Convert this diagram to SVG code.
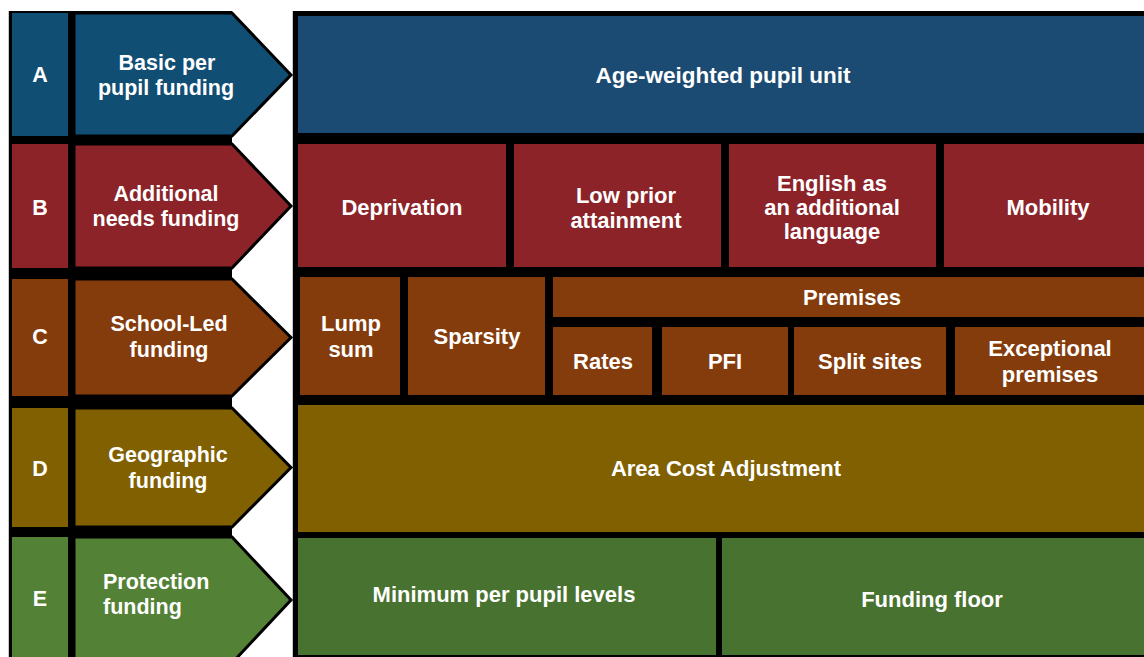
<svg xmlns="http://www.w3.org/2000/svg" width="1144" height="657" viewBox="0 0 1144 657">
<style>
text{font-family:"Liberation Sans",Arial,sans-serif;font-weight:bold;fill:#fff;font-size:22px;text-anchor:middle}
.lft{font-size:21.5px}
.big{font-size:22.5px}
.l{text-anchor:start}
.arr{stroke:#000;stroke-width:3;stroke-linejoin:miter}
.bA{fill:#114e74}.rA{fill:#1b4b72}
.cB{fill:#8b2329}
.cC{fill:#843c0c}
.cD{fill:#806000}
.bE{fill:#538135}.rE{fill:#48722f}
</style>
<rect width="1144" height="657" fill="#fff"/>
<g id="backgrounds">
<rect x="9" y="11" width="223" height="646" fill="#000"/>
<line x1="8.5" y1="11" x2="8.5" y2="657" stroke="#c8c8c8" stroke-width="1"/>
<rect x="293" y="11" width="851" height="646" fill="#000"/>
<line x1="292.5" y1="11" x2="292.5" y2="657" stroke="#c8c8c8" stroke-width="1"/>
</g>
<g id="row-A">
<rect class="bA" x="12" y="13" width="56" height="123"/>
<text class="lft" x="40" y="82">A</text>
<polygon class="bA arr" points="74,13 232,13 291,75 232,136 74,136"/>
<text class="lft" x="167" y="70">Basic per</text>
<text class="lft" x="166" y="95">pupil funding</text>
</g>
<g id="age-weighted">
<rect class="rA" x="298" y="16" width="846" height="117"/>
<text class="big" x="723" y="83">Age-weighted pupil unit</text>
</g>
<g id="row-B">
<rect class="cB" x="12" y="144" width="56" height="124"/>
<text class="lft" x="40" y="215">B</text>
<polygon class="cB arr" points="74,144 232,144 291,206 232,268 74,268"/>
<text class="lft" x="166" y="201">Additional</text>
<text class="lft" x="166" y="226">needs funding</text>
</g>
<g id="deprivation">
<rect class="cB" x="298" y="144" width="208" height="123"/>
<text x="402" y="215">Deprivation</text>
</g>
<g id="low-prior">
<rect class="cB" x="514" y="144" width="207" height="123"/>
<text x="626" y="203">Low prior</text>
<text x="626" y="228">attainment</text>
</g>
<g id="eal">
<rect class="cB" x="729" y="144" width="207" height="123"/>
<text x="832" y="191">English as</text>
<text x="832" y="215">an additional</text>
<text x="832" y="239">language</text>
</g>
<g id="mobility">
<rect class="cB" x="944" y="144" width="200" height="123"/>
<text x="1048" y="215">Mobility</text>
</g>
<g id="row-C">
<rect class="cC" x="12" y="279" width="56" height="117"/>
<text class="lft" x="40" y="344">C</text>
<polygon class="cC arr" points="74,279 232,279 291,337.5 232,396 74,396"/>
<text class="lft" x="169" y="331">School-Led</text>
<text class="lft" x="169" y="357">funding</text>
</g>
<g id="lump-sum">
<rect class="cC" x="300" y="277" width="100" height="118"/>
<text x="351" y="331">Lump</text>
<text x="351" y="357">sum</text>
</g>
<g id="sparsity">
<rect class="cC" x="408" y="277" width="137" height="118"/>
<text x="477" y="344">Sparsity</text>
</g>
<g id="premises">
<rect class="cC" x="553" y="277" width="591" height="40"/>
<text x="852" y="305">Premises</text>
</g>
<g id="rates">
<rect class="cC" x="553" y="327" width="99" height="68"/>
<text x="603" y="369">Rates</text>
</g>
<g id="pfi">
<rect class="cC" x="662" y="327" width="126" height="68"/>
<text x="725" y="369">PFI</text>
</g>
<g id="split-sites">
<rect class="cC" x="794" y="327" width="152" height="68"/>
<text x="870" y="369">Split sites</text>
</g>
<g id="exceptional">
<rect class="cC" x="955" y="327" width="189" height="68"/>
<text x="1050" y="356">Exceptional</text>
<text x="1050" y="382">premises</text>
</g>
<g id="row-D">
<rect class="cD" x="12" y="408" width="56" height="119"/>
<text class="lft" x="40" y="476">D</text>
<polygon class="cD arr" points="74,408 232,408 291,467.5 232,527 74,527"/>
<text class="lft" x="168" y="462">Geographic</text>
<text class="lft" x="168" y="488">funding</text>
</g>
<g id="area-cost">
<rect class="cD" x="298" y="405" width="846" height="127"/>
<text x="726" y="476">Area Cost Adjustment</text>
</g>
<g id="row-E">
<rect class="bE" x="12" y="537" width="56" height="125"/>
<text class="lft" x="40" y="606">E</text>
<polygon class="bE arr" points="74,537 232,537 291,600 232,663 74,663"/>
<text class="lft l" x="103" y="589">Protection</text>
<text class="lft l" x="103" y="614">funding</text>
</g>
<g id="minimum-per-pupil">
<rect class="rE" x="298" y="538" width="418" height="117"/>
<text x="504" y="602">Minimum per pupil levels</text>
</g>
<g id="funding-floor">
<rect class="rE" x="722" y="538" width="422" height="117"/>
<text x="932" y="607">Funding floor</text>
</g>
</svg>
